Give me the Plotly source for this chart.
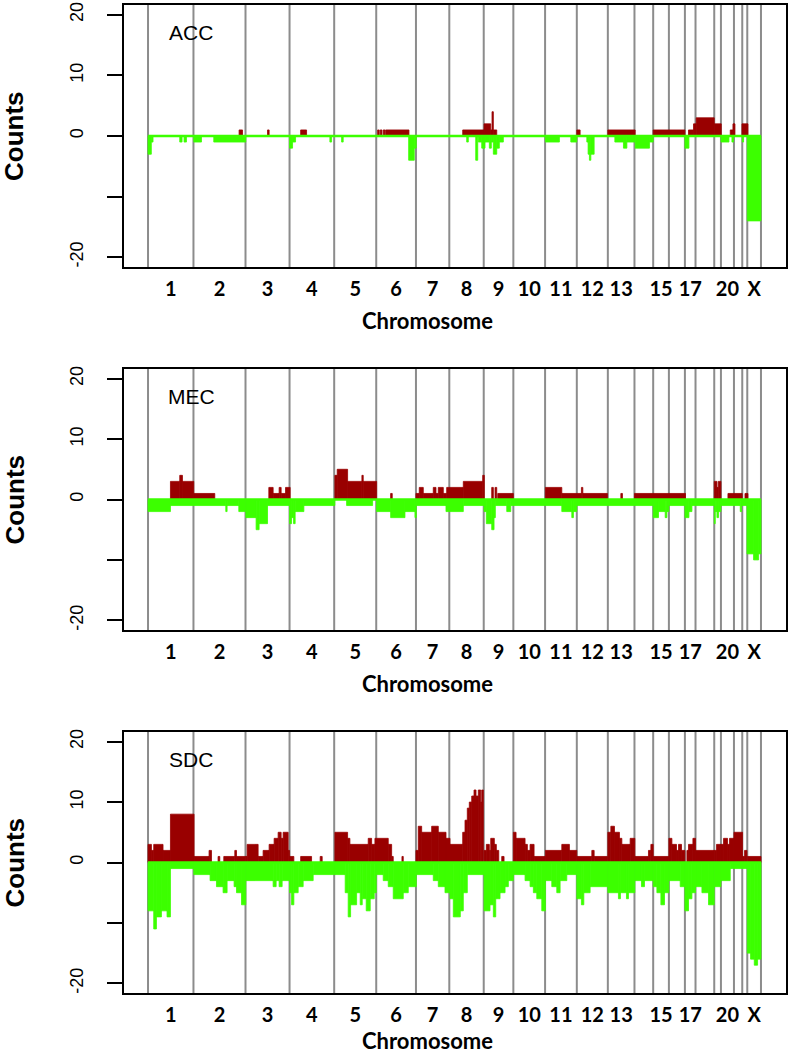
import plotly.graph_objects as go

# chromosome order and relative lengths (as spaced on the x axis)
CHROMS = ["1", "2", "3", "4", "5", "6", "7", "8", "9", "10", "11", "12",
          "13", "14", "15", "16", "17", "18", "19", "20", "21", "22", "X"]
CHROM_SIZES = [45.4, 52.0, 44.0, 44.6, 42.0, 39.7, 33.3, 34.4, 29.6, 31.7, 31.7, 31.0,
               26.6, 18.7, 15.7, 16.0, 10.6, 18.7, 6.7, 13.0, 8.3, 5.0, 13.7]
SHOWN_LABELS = ["1", "2", "3", "4", "5", "6", "7", "8", "9", "10", "11", "12",
                "13", "15", "17", "20", "X"]

# segments: [start, end, count] in genome position units
ACC_GAIN = [
    [91, 94.4, 1], [119.4, 121, 1], [152.5, 158.4, 1], [229.4, 231, 1], [232, 233.7, 1],
    [235, 236.7, 1], [237.4, 260.7, 1], [314.4, 335.7, 1], [335.7, 342.4, 2], [342.4, 343.7, 1],
    [343.7, 345, 4], [345, 348.4, 1], [428.4, 431.7, 1], [459.4, 486.7, 1], [504.7, 536.4, 1],
    [540, 545, 1], [545, 547.7, 2], [547.7, 565.7, 3], [565.7, 572.7, 2], [581.7, 584.4, 1],
    [584.4, 586.4, 2], [593.4, 599.4, 2],
]
ACC_LOSS = [
    [0, 3.3, 3], [3.3, 5, 1], [31.7, 34, 1], [36, 38.4, 1], [45.7, 53.4, 1], [65.7, 97.7, 1],
    [141.4, 144.4, 2], [144.4, 147.4, 1], [181.7, 183.4, 1], [193.4, 195, 1], [260.4, 266, 4],
    [266, 268, 2], [318.4, 320, 1], [327.4, 329.4, 4], [330, 333.4, 1], [333.4, 336.7, 2],
    [336.7, 341, 1], [341, 343, 2], [343, 345, 1], [345, 348.4, 3], [348.4, 351, 2], [351, 355, 1],
    [397, 411, 1], [422.4, 428.4, 1], [438.4, 439.7, 1], [439.7, 441, 3], [441, 442.4, 4],
    [442.4, 445.7, 3], [466.4, 475, 1], [475, 478.4, 2], [478.4, 486.7, 1], [486.7, 501, 2],
    [501, 504.7, 1], [536.4, 540.4, 2], [572.4, 580.4, 1], [583.4, 585, 1], [593.7, 595, 1],
    [598.7, 612.4, 14],
]

MEC_GAIN = [
    [22.4, 31.7, 3], [31.7, 34.4, 4], [34.4, 45.7, 3], [45.7, 66.7, 1], [120.7, 125, 2],
    [125, 131, 1], [131, 133, 2], [133, 137.4, 1], [137.4, 142, 2], [186.7, 189, 4],
    [189, 199.4, 5], [199.4, 213.7, 3], [213.7, 215, 4], [215, 228.4, 3], [242.4, 244, 1],
    [267.7, 271, 1], [271, 275, 2], [275, 285, 1], [285, 287.7, 2], [287.7, 290, 1],
    [290, 295, 2], [295, 298.4, 1], [298.4, 315, 2], [315, 334.4, 3], [334.4, 336, 4],
    [343.4, 345, 2], [346.7, 348.4, 2], [349.4, 365, 1], [397, 413.4, 2], [413.4, 433, 1],
    [433, 434.4, 2], [434.4, 459, 1], [472.4, 474, 1], [486, 537, 1], [565.7, 568.4, 3],
    [568.4, 569.7, 2], [569.7, 572.4, 3], [579.4, 593.7, 1], [596.4, 599.4, 1],
]
MEC_LOSS = [
    [0, 22.4, 2], [22.4, 77.7, 1], [77.7, 79, 2], [79, 90.7, 1], [90.7, 97.7, 2],
    [97.7, 108, 3], [108, 111, 5], [111, 119.4, 4], [119.4, 141.4, 1], [141.4, 143.4, 4],
    [143.4, 145.4, 3], [145.4, 147, 4], [147, 155.7, 2], [155.7, 186.7, 1], [198.4, 224.4, 1],
    [228.3, 242.4, 2], [242.4, 256.7, 3], [256.7, 266.7, 2], [266.7, 268, 3], [268, 297.7, 1],
    [297.7, 315, 2], [315, 335.7, 1], [335.7, 338, 2], [338, 343.4, 4], [343.4, 345.7, 5],
    [345.7, 347, 3], [347, 358.4, 1], [358.4, 362.4, 2], [362.4, 413.4, 1], [413.4, 423.4, 2],
    [423.4, 425, 3], [425, 428.4, 2], [428.4, 504.7, 1], [504.7, 510, 3], [510, 516.7, 2],
    [516.7, 518.4, 3], [518.4, 520.4, 2], [520.4, 536.4, 1], [536.4, 540.4, 3],
    [540.4, 543.4, 2], [543.4, 565.7, 1], [565.7, 566.7, 4], [566.7, 568.4, 2],
    [568.4, 570, 3], [570, 572.4, 2], [572.4, 591.7, 1], [591.7, 593, 2], [593, 598.4, 1],
    [598.4, 605, 9], [605, 610, 10], [610, 612.4, 9],
]

SDC_GAIN = [
    [0, 3.4, 3], [3.4, 5.7, 2], [5.7, 15, 3], [15, 22.4, 2], [22.4, 46, 8], [46, 61, 1],
    [61, 63.4, 2], [70, 71.7, 1], [75.7, 86.7, 1], [86.7, 88.4, 2], [88.4, 97.7, 1],
    [97.7, 99, 1], [99, 110, 3], [110, 115, 1], [115, 121, 2], [121, 126, 3], [126, 130, 4],
    [130, 133, 5], [133, 135, 4], [135, 140, 5], [140, 141.4, 2],
    [141.4, 145.7, 1], [152.5, 163.4, 1], [172, 174, 1],
    [186.7, 199.4, 5], [199.4, 201.7, 4], [201.7, 220, 3], [220, 223.4, 4], [223.4, 226.7, 3],
    [226.7, 240, 4], [240, 243.4, 3], [243.4, 245, 1], [253.7, 255, 1],
    [267.7, 270, 2], [270, 273.4, 6], [273.4, 283.4, 5], [283.4, 290, 6], [290, 297.7, 5],
    [297.7, 301.7, 4],
    [301.7, 314.4, 3], [314.4, 316.7, 5], [316.7, 319, 7], [319, 321, 9], [321, 323.4, 10],
    [323.4, 325.7, 11], [325.7, 327.7, 12], [327.7, 330, 11], [330, 332.4, 12],
    [332.4, 333.4, 10], [333.4, 335, 12],
    [335.7, 338, 2], [338, 341, 3], [341, 342.4, 2], [342.4, 346, 4], [346, 348, 3],
    [348, 350.4, 2], [353.4, 355.7, 1],
    [365, 367.7, 5], [367.7, 376.7, 4], [376.7, 379, 3], [379, 381.7, 2], [381.7, 385.7, 3],
    [385.7, 397, 1],
    [397, 413.4, 2], [413.4, 421, 3], [421, 428.4, 2],
    [428.4, 443.4, 1], [443.4, 445.7, 2], [445.7, 459, 1],
    [459.4, 462.4, 5], [462.4, 466, 6], [466, 471, 5], [471, 473.4, 4], [473.4, 481.7, 3],
    [481.7, 486.4, 4],
    [486.4, 500, 1], [500, 502.4, 2], [502.4, 504.7, 3], [504.7, 520.4, 1],
    [520.4, 523.4, 4], [523.4, 528, 3], [528, 530, 2], [530, 533, 3], [533, 536.4, 2],
    [538.4, 540, 2], [540, 544.4, 3], [544.4, 547, 4], [547, 565.7, 2],
    [565.7, 568, 2], [568, 572.4, 3], [572.4, 575, 3], [575, 579, 4], [579, 581, 3],
    [581, 585.4, 4], [585.4, 594, 5], [594, 596, 1], [596, 598.4, 2], [598.7, 612.4, 1],
]
SDC_LOSS = [
    [0, 5.7, 8], [5.7, 8.4, 11], [8.4, 13.4, 9], [13.4, 19, 8], [19, 22.4, 9], [22.4, 45.7, 1],
    [45.7, 62, 2], [62, 68.4, 3], [68.4, 75, 4], [75, 79, 5], [79, 86, 3], [86, 88.4, 4],
    [88.4, 93.4, 5], [93.4, 97.7, 7],
    [97.7, 125, 3], [125, 128, 4], [128, 131, 3], [131, 134, 4], [134, 141.4, 3],
    [141.4, 143.4, 5], [143.4, 145.7, 7], [145.7, 150, 5], [150, 155, 4], [155, 165, 3],
    [165, 186.7, 2],
    [186.7, 197, 2], [197, 200, 5], [200, 202.4, 9], [202.4, 208.4, 7], [208.4, 212, 5],
    [212, 214, 7], [214, 218, 6], [218, 222, 8], [222, 226, 6], [226, 228, 5],
    [228, 235, 2], [235, 240, 3], [240, 245, 4], [245, 255, 6], [255, 260, 5], [260, 268, 4],
    [268, 285, 2], [285, 290, 3], [290, 296.7, 4], [296.7, 301.7, 5],
    [301.7, 305, 6], [305, 312, 9], [312, 315, 8], [315, 319, 5], [319, 335.7, 2],
    [335.7, 341.7, 8], [341.7, 345, 7], [345, 347.4, 9], [347.4, 351.7, 6], [351.7, 356.7, 5],
    [356.7, 360, 4], [360, 365, 3],
    [365, 376.7, 2], [376.7, 381.7, 3], [381.7, 385, 4], [385, 388.4, 5], [388.4, 393.4, 6],
    [393.4, 397, 8],
    [397, 403.4, 3], [403.4, 408.4, 4], [408.4, 411.7, 5], [411.7, 418.4, 3], [418.4, 428.4, 2],
    [428.4, 433, 6], [433, 435.4, 7], [435.4, 441.7, 5], [441.7, 459.4, 4],
    [459.4, 470, 5], [470, 472, 6], [472, 478, 5], [478, 480, 6], [480, 486.4, 5],
    [486.4, 493, 3], [493, 496, 4], [496, 504.7, 3],
    [504.7, 508.4, 4], [508.4, 512.4, 5], [512.4, 516, 7], [516, 520.4, 5],
    [520.4, 531.7, 3], [531.7, 536.4, 4],
    [536.4, 540, 8], [540, 543.4, 6], [543.4, 547, 5],
    [547, 553.4, 4], [553.4, 560, 5], [560, 565.7, 7], [565.7, 572.4, 4],
    [572.4, 581.7, 3], [581.7, 585.4, 1], [585.4, 593.7, 1], [593.7, 598.7, 1],
    [598.7, 602, 15], [602, 605.7, 16], [605.7, 609, 17], [609, 612.4, 16],
]

PANELS = [("ACC", ACC_GAIN, ACC_LOSS), ("MEC", MEC_GAIN, MEC_LOSS), ("SDC", SDC_GAIN, SDC_LOSS)]

RED = "#990000"
GREEN = "#3cff00"
W, H = 788, 1058

# panel boxes in pixels (top, bottom) and the y of each "Chromosome" title
PANEL_PX = [(5, 267), (369, 630), (732, 993)]
XTITLE_PX = [320, 683, 1040]
X_DOM = [123.5 / W, 785.5 / W]

bounds = [0.0]
for s in CHROM_SIZES:
    bounds.append(bounds[-1] + s)
total = bounds[-1]
centers = [(bounds[i] + bounds[i + 1]) / 2 for i in range(len(CHROMS))]
tickvals = [centers[i] for i, c in enumerate(CHROMS) if c in SHOWN_LABELS]
ticktext = [c for c in CHROMS if c in SHOWN_LABELS]

fig = go.Figure()
shapes, annotations = [], []

for i, (name, gain, loss) in enumerate(PANELS):
    sfx = "" if i == 0 else str(i + 1)
    xa, ya = "x" + sfx, "y" + sfx
    fig.add_trace(go.Bar(
        x=[(s + e) / 2 for s, e, v in gain], y=[v for s, e, v in gain],
        width=[e - s for s, e, v in gain], marker=dict(color=RED, line=dict(color=RED, width=0.8)),
        xaxis=xa, yaxis=ya, showlegend=False, hoverinfo="skip"))
    fig.add_trace(go.Bar(
        x=[(s + e) / 2 for s, e, v in loss], y=[-v for s, e, v in loss],
        width=[e - s for s, e, v in loss], marker=dict(color=GREEN, line=dict(color=GREEN, width=0.8)),
        xaxis=xa, yaxis=ya, showlegend=False, hoverinfo="skip"))
    fig.add_trace(go.Scatter(
        x=[0, total], y=[0, 0], mode="lines", line=dict(color=GREEN, width=2.5),
        xaxis=xa, yaxis=ya, showlegend=False, hoverinfo="skip"))

    top, bot = PANEL_PX[i]
    dom = [1 - bot / H, 1 - top / H]
    fig.layout["xaxis" + sfx] = dict(
        domain=X_DOM, anchor=ya, range=[-0.04 * total, 1.04 * total], automargin=False,
        showline=True, mirror=True, linecolor="black", linewidth=2,
        showgrid=False, zeroline=False, ticks="",
        tickvals=tickvals, ticktext=ticktext, ticklabelstandoff=3,
        tickfont=dict(family="Lato", size=20, color="black", weight="bold"))
    fig.layout["yaxis" + sfx] = dict(
        domain=dom, anchor=xa, range=[-21.6, 21.6], automargin=False,
        showline=True, mirror=True, linecolor="black", linewidth=2,
        showgrid=False, zeroline=False,
        tickvals=[-20, -10, 0, 10, 20], ticktext=["-20", "", "0", "10", "20"],
        ticks="outside", ticklen=15, tickwidth=2, tickcolor="black", tickangle=-90,
        ticklabelstandoff=16,
        tickfont=dict(family="Liberation Sans, Arial", size=18, color="black"))

    for b in bounds:
        shapes.append(dict(type="line", xref=xa, yref=ya + " domain", x0=b, x1=b, y0=0, y1=1,
                           line=dict(color="#8c8c8c", width=2), layer="below"))

    annotations.append(dict(x=43, y=17, xref=xa, yref=ya, text=name, showarrow=False,
                            xanchor="center", yanchor="middle",
                            font=dict(family="Liberation Sans, Arial", size=21, color="black")))
    annotations.append(dict(x=14 / W, y=(dom[0] + dom[1]) / 2, xref="paper", yref="paper",
                            text="<b>Counts</b>", textangle=-90, showarrow=False,
                            xanchor="center", yanchor="middle",
                            font=dict(family="Liberation Sans, Arial", size=26, color="black")))
    annotations.append(dict(x=427 / W, y=1 - XTITLE_PX[i] / H, xref="paper", yref="paper",
                            text="Chromosome", showarrow=False,
                            xanchor="center", yanchor="middle",
                            font=dict(family="Lato", size=22, color="black", weight="bold")))

fig.update_layout(
    width=W, height=H, margin=dict(l=0, r=0, t=0, b=0),
    paper_bgcolor="white", plot_bgcolor="white",
    barmode="overlay", shapes=shapes, annotations=annotations,
)

# drop the browser's default page margin so the figure sits at the top-left corner
fig.write_html("out.html", config={"displayModeBar": False},
               post_script="document.body.style.margin='0';document.body.style.overflow='hidden';")
